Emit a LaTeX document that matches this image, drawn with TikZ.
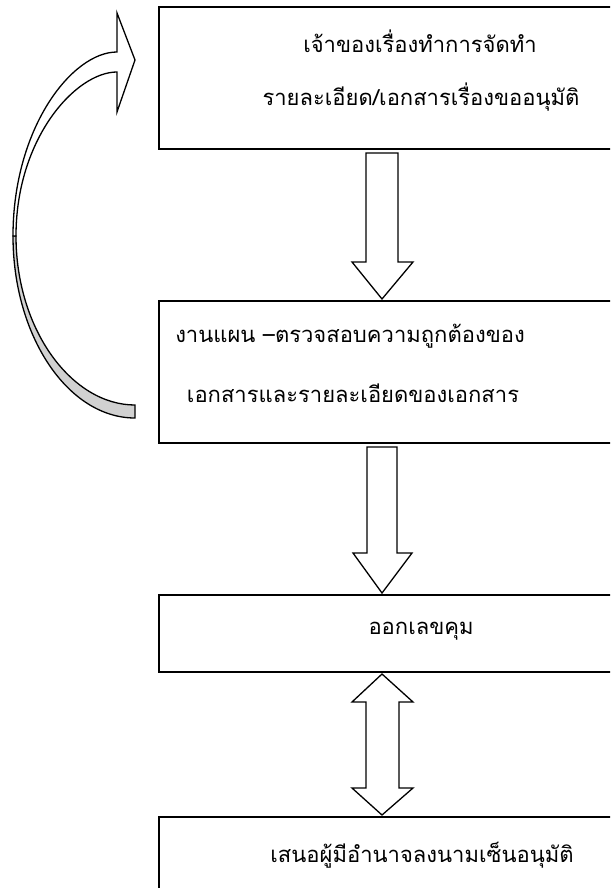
\documentclass[tikz,border=0pt]{standalone}
\usepackage{fontspec}
\newfontfamily\thaifont[Script=Thai]{Loma}
\begin{document}
\begin{tikzpicture}[x=1pt,y=-1pt,
  box/.style={draw, line width=1.7pt, rectangle, inner sep=0pt, anchor=north west},
  blockarrow/.style={draw, line width=1.3pt, fill=white, line join=miter},
  backface/.style={draw, line width=1.3pt, fill=black!18, line join=miter},
  lbl/.style={font=\thaifont\fontsize{22}{26}\selectfont, inner sep=0pt, anchor=center}]
\useasboundingbox (0,0) rectangle (610,888);
\clip (0,0) rectangle (610,888);
% boxes
\node[box, minimum width=470pt, minimum height=142pt] (b1) at (158,6) {};
\node[box, minimum width=470pt, minimum height=142pt] (b2) at (158,300) {};
\node[box, minimum width=470pt, minimum height=77pt] (b3) at (158,594) {};
\node[box, minimum width=470pt, minimum height=90pt] (b4) at (158,816) {};
% texts
\node[lbl] (t1a) at (420,41) {เจ้าของเรื่องทำการจัดทำ};
\node[lbl] (t1b) at (421,97) {รายละเอียด/เอกสารเรื่องขออนุมัติ};
\node[lbl] (t2a) at (350,336) {งานแผน –ตรวจสอบความถูกต้องของ};
\node[lbl] (t2b) at (353,393) {เอกสารและรายละเอียดของเอกสาร};
\node[lbl] (t3) at (421,631) {ออกเลขคุม};
\node[lbl] (t4) at (422,855) {เสนอผู้มีอำนาจลงนามเซ็นอนุมัติ};
% block arrows
\draw[blockarrow] (366,153) -- (398,153) -- (398,262) -- (413,262) -- (382,299) -- (352,262) -- (366,262) -- cycle;
\draw[blockarrow] (367,447) -- (397,447) -- (397,553) -- (412,553) -- (382,593) -- (353,553) -- (367,553) -- cycle;
\draw[blockarrow] (382,674) -- (413,702) -- (399,702) -- (399,788) -- (413,788) -- (382,815) -- (352,788) -- (366,788) -- (366,702) -- (352,702) -- cycle;
% curved arrow
\draw[backface] (13,236) .. controls (13,336) and (68,418) .. (135,418) -- (135,405) .. controls (72,405) and (16,330) .. (16,236) -- cycle;
\draw[blockarrow] (13,236) .. controls (13,128) and (72,52) .. (117,52) -- (117,13) -- (135,60) -- (117,112) -- (117,72) .. controls (76,72) and (16,138) .. (16,236) -- cycle;
\end{tikzpicture}
\end{document}
